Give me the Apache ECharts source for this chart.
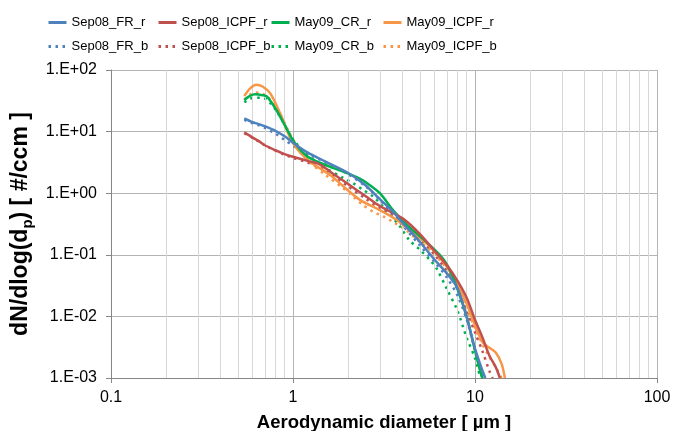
<html>
<head>
    <meta charset="utf-8">
    <script src="https://cdn.jsdelivr.net/npm/echarts@6/dist/echarts.min.js"></script>
</head>
<body style="margin:0">
<div id="main" style="width:673px;height:431px"></div>
<script>
    // [diameter um, dN/dlog(dp) #/ccm]
    var sep08FR_r = [[0.54,16.4],[0.6,14.2],[0.65,13.2],[0.7,12.2],[0.8,10.3],[0.9,8.4],[1,6.6],[1.2,4.6],[1.5,3.3],[2,2.15],[2.5,1.35],[3,0.8],[3.5,0.52],[4,0.33],[5,0.16],[6,0.083],[7,0.05],[8,0.029],[9,0.0098],[10,0.003],[11,0.0013],[11.4,0.001]];
    var sep08ICPF_r = [[0.54,9.7],[0.6,8.0],[0.65,7.0],[0.7,6.0],[0.8,5.0],[0.9,4.3],[1,3.9],[1.2,3.35],[1.4,2.95],[1.6,2.23],[2,1.42],[2.5,0.9],[3,0.62],[4,0.39],[5,0.215],[6,0.115],[7,0.068],[8,0.038],[9,0.02],[10,0.0088],[11,0.0045],[12,0.0023],[13,0.0015],[13.7,0.001]];
    var may09CR_r = [[0.54,32.6],[0.58,38],[0.62,40.3],[0.68,39],[0.72,36.9],[0.81,22.4],[0.92,11.3],[1,7.2],[1.1,5],[1.24,3.7],[1.59,2.7],[2,2.1],[2.3,1.75],[2.6,1.4],[3,1.0],[3.55,0.53],[4.2,0.31],[5.2,0.18],[6.4,0.1],[7,0.07],[7.6,0.042],[8,0.028],[9,0.0099],[10,0.0028],[10.9,0.00105],[11.1,0.001]];
    var may09ICPF_r = [[0.54,37.8],[0.58,50],[0.63,57.7],[0.68,54],[0.75,41.8],[0.85,19.8],[0.94,9.4],[1,6.5],[1.1,4.5],[1.24,3.24],[1.6,1.97],[2,1.12],[2.33,0.78],[3,0.53],[3.7,0.37],[4.58,0.224],[5.66,0.136],[7,0.064],[8,0.033],[9,0.016],[10,0.0072],[11,0.0038],[12,0.0031],[13,0.0026],[14,0.0017],[14.6,0.001]];
    var sep08FR_b = [[0.54,15.5],[0.6,13.6],[0.65,12.6],[0.7,11.5],[0.8,9.3],[0.9,7.3],[1,5.9],[1.2,4.4],[1.5,3.2],[2,2.05],[2.5,1.3],[3,0.78],[4,0.3],[5,0.14],[6,0.076],[7,0.043],[8,0.022],[9,0.009],[10,0.0028],[11,0.001]];
    var sep08ICPF_b = [[0.54,9.4],[0.6,7.9],[0.65,6.9],[0.7,6.0],[0.8,4.9],[0.9,4.2],[1,3.75],[1.2,3.15],[1.5,2.35],[2,1.3],[2.5,0.82],[3,0.57],[4,0.34],[5,0.18],[6,0.1],[7,0.055],[8,0.028],[9,0.012],[10,0.0055],[11,0.0027],[12,0.0013],[12.5,0.001]];
    var may09CR_b = [[0.54,30],[0.58,34],[0.62,35.5],[0.68,35],[0.72,33],[0.8,23],[0.9,13],[1,7.5],[1.2,4.2],[1.5,2.6],[1.9,1.75],[2.14,1.45],[2.43,1.13],[2.76,0.88],[3.13,0.6],[3.48,0.42],[3.86,0.29],[4.38,0.17],[5,0.12],[5.66,0.082],[6.15,0.06],[7,0.028],[8,0.0125],[9,0.0045],[10,0.0021],[10.7,0.001]];
    var may09ICPF_b = [[0.54,33],[0.58,40],[0.62,43],[0.68,41],[0.75,33],[0.85,19],[0.94,10.5],[1,7.5],[1.2,3.5],[1.5,2.0],[1.89,1.2],[2.14,0.88],[2.43,0.64],[2.76,0.5],[3.13,0.42],[3.55,0.34],[4.2,0.25],[4.98,0.16],[5.66,0.12],[7,0.06],[8,0.03],[9,0.013],[10,0.0065],[11,0.0035],[12,0.0022],[13,0.0015],[14,0.001]];

    var minorDiam = [0.2,0.3,0.4,0.5,0.6,0.7,0.8,0.9,2,3,4,5,6,7,8,9,20,30,40,50,60,70,80,90];

    var names = ['Sep08_FR_r','Sep08_ICPF_r','May09_CR_r','May09_ICPF_r','Sep08_FR_b','Sep08_ICPF_b','May09_CR_b','May09_ICPF_b'];
    var colors = ['#4F81BD','#C0504D','#00B050','#F79646'];
    var seriesData = [sep08FR_r, sep08ICPF_r, may09CR_r, may09ICPF_r, sep08FR_b, sep08ICPF_b, may09CR_b, may09ICPF_b];

    var font = 'Liberation Sans, Arial, sans-serif';
    var chart = echarts.init(document.getElementById('main'));

    var series = [{
        name: 'grid',
        type: 'line',
        data: [],
        z: 1,
        silent: true,
        markLine: {
            silent: true,
            animation: false,
            symbol: ['none', 'none'],
            label: {show: false},
            lineStyle: {color: '#d6d6d6', type: 'solid', width: 1},
            data: minorDiam.map(function (d) { return {xAxis: d}; })
        }
    }];
    seriesData.forEach(function (d, i) {
        series.push({
            name: names[i],
            type: 'line',
            data: d,
            smooth: 0.3,
            symbol: 'none',
            z: 10 - i,
            lineStyle: {
                color: colors[i % 4],
                width: 2.5,
                type: i < 4 ? 'solid' : [2.5, 4.5]
            },
            itemStyle: {color: colors[i % 4]}
        });
    });

    var legendLeft = [42, 152, 265, 377];
    var legends = legendLeft.map(function (l, c) {
        return {
            orient: 'vertical',
            left: l,
            top: 11,
            itemWidth: 18,
            itemHeight: 12,
            itemGap: 11,
            itemStyle: {opacity: 0},
            lineStyle: {width: 3},
            data: [names[c], names[c + 4]],
            textStyle: {fontFamily: font, fontSize: 13, color: '#000'}
        };
    });

    var option = {
        animation: false,
        legend: legends,
        grid: {left: 111, right: 16, top: 70, bottom: 53, outerBoundsMode: 'none'},
        xAxis: {
            type: 'log',
            logBase: 10,
            min: 0.1,
            max: 100,
            name: 'Aerodynamic diameter [ µm ]',
            nameLocation: 'middle',
            nameGap: 35,
            nameTextStyle: {fontFamily: font, fontSize: 18.5, fontWeight: 'bold', color: '#000'},
            axisLine: {lineStyle: {color: '#868686'}},
            axisTick: {show: true, length: 5, lineStyle: {color: '#868686'}},
            axisLabel: {fontFamily: font, fontSize: 16, color: '#000', margin: 12},
            splitLine: {show: true, lineStyle: {color: '#b4b4b4'}}
        },
        yAxis: {
            type: 'log',
            logBase: 10,
            min: 0.001,
            max: 100,
            name: '{a|dN/dlog(d}{s|p}{a|) [ #/ccm ]}',
            nameLocation: 'middle',
            nameGap: 70,
            nameTextStyle: {
                rich: {
                    a: {fontFamily: font, fontSize: 23, fontWeight: 'bold', color: '#000', lineHeight: 28},
                    s: {fontFamily: font, fontSize: 15, fontWeight: 'bold', color: '#000', lineHeight: 16, verticalAlign: 'bottom'}
                }
            },
            axisLine: {show: true, lineStyle: {color: '#868686'}},
            axisTick: {show: true, length: 5, lineStyle: {color: '#868686'}},
            axisLabel: {
                fontFamily: font, fontSize: 16, color: '#000', margin: 14,
                formatter: function (v) {
                    var e = Math.round(Math.log10(v));
                    return '1.E' + (e < 0 ? '-' : '+') + (Math.abs(e) < 10 ? '0' : '') + Math.abs(e);
                }
            },
            splitLine: {show: true, lineStyle: {color: '#b4b4b4'}}
        },
        series: series
    };

    chart.setOption(option);
</script>
</body>
</html>
